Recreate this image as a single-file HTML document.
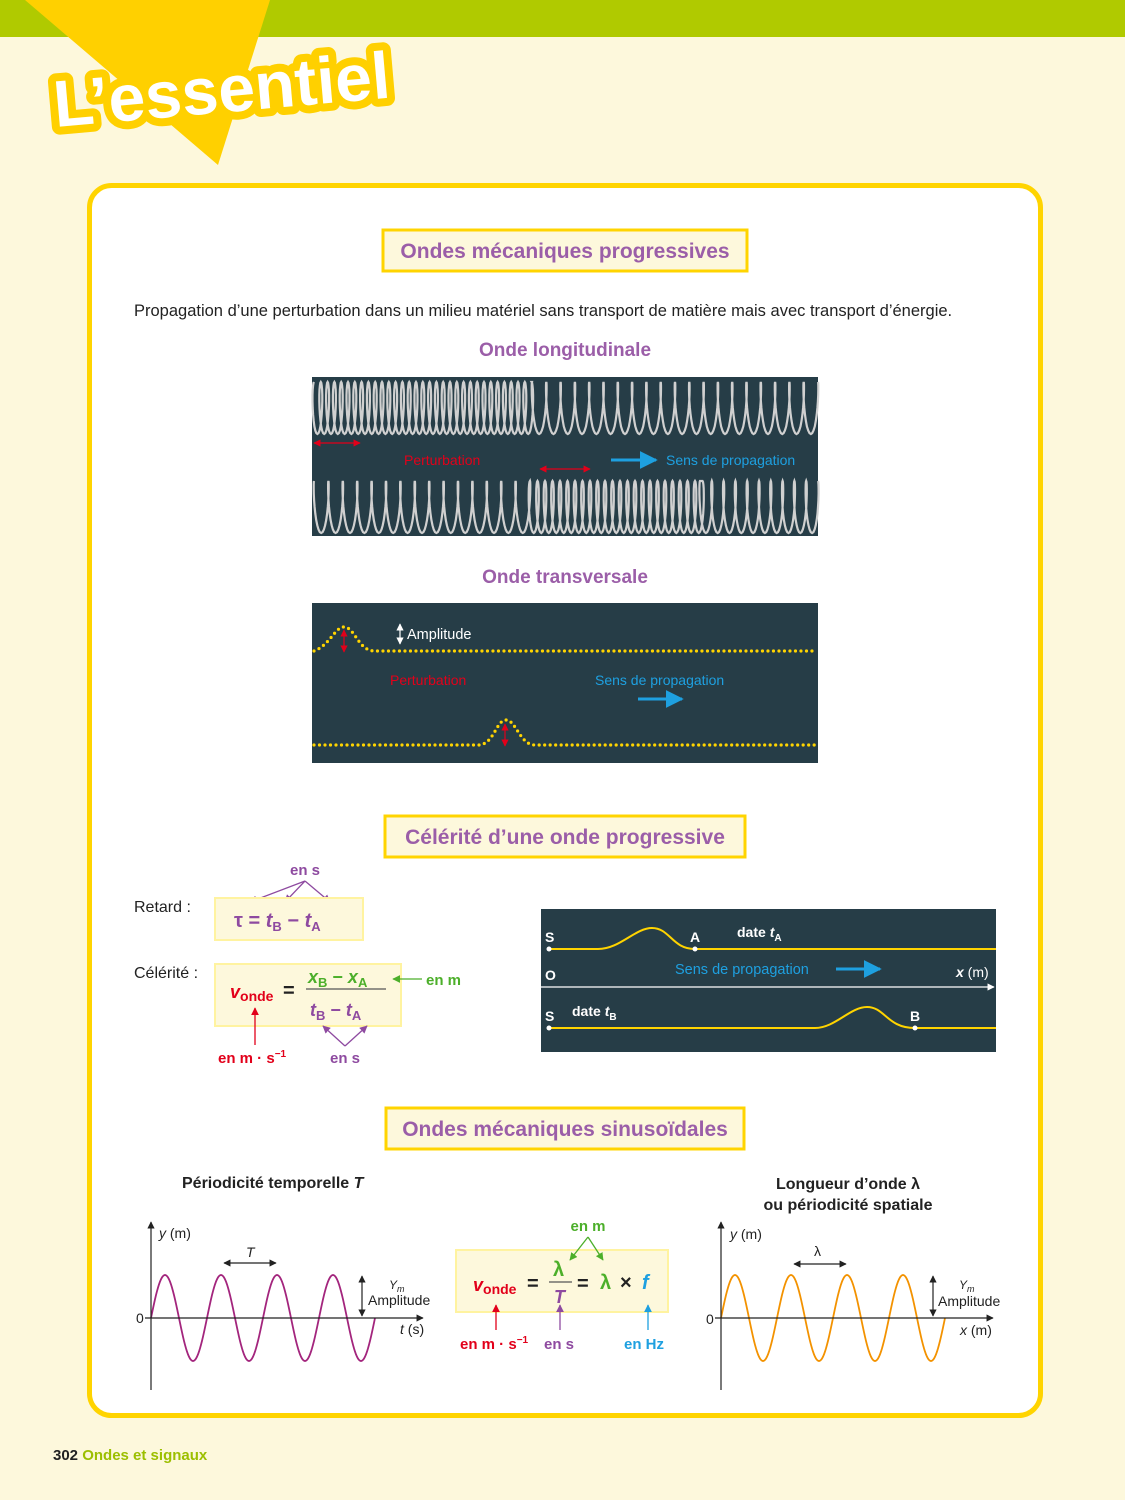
<!DOCTYPE html>
<html><head><meta charset="utf-8"><style>
html,body{margin:0;padding:0;background:#fdf8dc;}
svg{display:block;font-family:"Liberation Sans",sans-serif;}
</style></head><body>
<svg id="s" width="1125" height="1500" viewBox="0 0 1125 1500" xmlns="http://www.w3.org/2000/svg">
<defs>
<marker id="ar" viewBox="0 0 10 10" refX="9" refY="5" markerWidth="5" markerHeight="5" orient="auto-start-reverse"><path d="M0,0 L10,5 L0,10z" fill="context-stroke"/></marker>
<marker id="ak" viewBox="0 0 10 10" refX="9" refY="5" markerWidth="6" markerHeight="6" orient="auto-start-reverse"><path d="M0,0 L10,5 L0,10z" fill="#222"/></marker>
<marker id="ap" viewBox="0 0 10 10" refX="9" refY="5" markerWidth="6" markerHeight="6" orient="auto"><path d="M0,0 L10,5 L0,10z" fill="#8e4aa0"/></marker>
<marker id="ag" viewBox="0 0 10 10" refX="9" refY="5" markerWidth="6" markerHeight="6" orient="auto"><path d="M0,0 L10,5 L0,10z" fill="#4caf2a"/></marker>
<marker id="arr" viewBox="0 0 10 10" refX="9" refY="5" markerWidth="6" markerHeight="6" orient="auto-start-reverse"><path d="M0,0 L10,5 L0,10z" fill="#e2001a"/></marker>
<marker id="ab" viewBox="0 0 10 10" refX="9" refY="5" markerWidth="6" markerHeight="6" orient="auto"><path d="M0,0 L10,5 L0,10z" fill="#1ea0e0"/></marker>
<marker id="aw" viewBox="0 0 10 10" refX="9" refY="5" markerWidth="6" markerHeight="6" orient="auto-start-reverse"><path d="M0,0 L10,5 L0,10z" fill="#fff"/></marker>
</defs>
<rect width="1125" height="1500" fill="#fdf8dc"/>
<rect width="1125" height="37" fill="#b0ca00"/>
<polygon points="25,0 270,0 218,165" fill="#ffd000"/>
<g transform="rotate(-5 225 80)" font-weight="bold" font-size="66" font-family="Liberation Sans,sans-serif">
<text x="52" y="112" fill="#ffd000" stroke="#ffd000" stroke-width="16" stroke-linejoin="round">L’essentiel</text>
<text x="52" y="112" fill="#fff">L’essentiel</text>
</g>
<rect x="89.5" y="185.5" width="951" height="1230" rx="22" fill="#fff" stroke="#ffd400" stroke-width="5"/>

<g font-weight="bold" font-size="21" fill="#9b5ea8" text-anchor="middle">
<rect x="383" y="230" width="364" height="41" fill="#fdf8dc" stroke="#ffd400" stroke-width="3"/>
<text x="565" y="258">Ondes mécaniques progressives</text>
<rect x="385" y="816" width="360" height="41" fill="#fdf8dc" stroke="#ffd400" stroke-width="3"/>
<text x="565" y="844">Célérité d’une onde progressive</text>
<rect x="386" y="1108" width="358" height="41" fill="#fdf8dc" stroke="#ffd400" stroke-width="3"/>
<text x="565" y="1136">Ondes mécaniques sinusoïdales</text>
<text x="565" y="356" font-size="19">Onde longitudinale</text>
<text x="565" y="583" font-size="19">Onde transversale</text>
</g>
<text x="134" y="316" font-size="16.5" fill="#222">Propagation d’une perturbation dans un milieu matériel sans transport de matière mais avec transport d’énergie.</text>

<!-- longitudinal -->
<rect x="312" y="377" width="506" height="159" fill="#263d47"/>
<g id="springs" fill="none" stroke="#d0d0d0" stroke-width="2.2"></g>
<line x1="314" y1="443" x2="360" y2="443" stroke="#e2001a" stroke-width="1.2" marker-start="url(#arr)" marker-end="url(#arr)"/>
<line x1="540" y1="469" x2="590" y2="469" stroke="#e2001a" stroke-width="1.2" marker-start="url(#arr)" marker-end="url(#arr)"/>
<text x="404" y="465" font-size="14" fill="#e2001a">Perturbation</text>
<line x1="611" y1="460" x2="656" y2="460" stroke="#1ea0e0" stroke-width="3" marker-end="url(#ab)"/>
<text x="666" y="465" font-size="14" fill="#1ea0e0">Sens de propagation</text>

<!-- transverse -->
<rect x="312" y="603" width="506" height="160" fill="#263d47"/>
<g fill="none" stroke="#ffd400" stroke-width="3.2" stroke-linecap="round" stroke-dasharray="0 5.5">
<path d="M314,651 C330,645 335,627 344,627 C355,627 358,651 375,651 L815,651"/>
<path d="M314,745 L478,745 C494,745 496,720 506,720 C516,720 520,745 535,745 L815,745"/>
</g>
<line x1="344" y1="630" x2="344" y2="652" stroke="#e2001a" stroke-width="1.2" marker-start="url(#arr)" marker-end="url(#arr)"/>
<line x1="505" y1="724" x2="505" y2="746" stroke="#e2001a" stroke-width="1.2" marker-start="url(#arr)" marker-end="url(#arr)"/>
<line x1="400" y1="624" x2="400" y2="644" stroke="#fff" stroke-width="1.2" marker-start="url(#aw)" marker-end="url(#aw)"/>
<text x="407" y="639" font-size="14.5" fill="#fff">Amplitude</text>
<text x="390" y="685" font-size="14" fill="#e2001a">Perturbation</text>
<text x="595" y="685" font-size="14" fill="#1ea0e0">Sens de propagation</text>
<line x1="638" y1="699" x2="682" y2="699" stroke="#1ea0e0" stroke-width="3" marker-end="url(#ab)"/>

<!-- retard / celerite -->
<text x="134" y="912" font-size="16" fill="#222">Retard :</text>
<text x="134" y="978" font-size="16" fill="#222">Célérité :</text>
<text x="305" y="875" font-size="15" font-weight="bold" fill="#8e4aa0" text-anchor="middle">en s</text>
<g stroke="#8e4aa0" stroke-width="1.3" fill="none">
<line x1="305" y1="881" x2="250" y2="902" marker-end="url(#ap)"/>
<line x1="305" y1="881" x2="285" y2="902" marker-end="url(#ap)"/>
<line x1="305" y1="881" x2="330" y2="902" marker-end="url(#ap)"/>
</g>
<rect x="215" y="898" width="148" height="42" fill="#fdf8dc" stroke="#fff3a0" stroke-width="2"/>
<text x="234" y="927" font-size="20" font-weight="bold" fill="#8e4aa0">τ = <tspan font-style="italic">t</tspan><tspan font-size="13" dy="4">B</tspan><tspan dy="-4"> − </tspan><tspan font-style="italic">t</tspan><tspan font-size="13" dy="4">A</tspan></text>
<rect x="215" y="964" width="186" height="62" fill="#fdf8dc" stroke="#fff3a0" stroke-width="2"/>
<text x="230" y="998" font-size="18" font-weight="bold" fill="#e2001a" font-style="italic">v<tspan font-size="14" font-style="normal" dy="3">onde</tspan></text>
<text x="283" y="997" font-size="20" font-weight="bold" fill="#222">=</text>
<line x1="306" y1="989" x2="386" y2="989" stroke="#555" stroke-width="1.2"/>
<text x="308" y="983" font-size="18" font-weight="bold" fill="#4caf2a"><tspan font-style="italic">x</tspan><tspan font-size="13" dy="4">B</tspan><tspan dy="-4"> − </tspan><tspan font-style="italic">x</tspan><tspan font-size="13" dy="4">A</tspan></text>
<text x="310" y="1016" font-size="18" font-weight="bold" fill="#8e4aa0"><tspan font-style="italic">t</tspan><tspan font-size="13" dy="4">B</tspan><tspan dy="-4"> − </tspan><tspan font-style="italic">t</tspan><tspan font-size="13" dy="4">A</tspan></text>
<line x1="422" y1="979" x2="393" y2="979" stroke="#4caf2a" stroke-width="1.3" marker-end="url(#ag)"/>
<text x="426" y="985" font-size="15" font-weight="bold" fill="#4caf2a">en m</text>
<line x1="255" y1="1045" x2="255" y2="1008" stroke="#e2001a" stroke-width="1.3" marker-end="url(#arr)"/>
<text x="218" y="1063" font-size="15" font-weight="bold" fill="#e2001a">en m · s<tspan font-size="10" dy="-6">−1</tspan></text>
<g stroke="#8e4aa0" stroke-width="1.3"><line x1="345" y1="1046" x2="323" y2="1026" marker-end="url(#ap)"/><line x1="345" y1="1046" x2="367" y2="1026" marker-end="url(#ap)"/></g>
<text x="345" y="1063" font-size="15" font-weight="bold" fill="#8e4aa0" text-anchor="middle">en s</text>

<rect x="541" y="909" width="455" height="143" fill="#263d47"/>
<g fill="none" stroke="#ffd400" stroke-width="2">
<path d="M549,949 L598,949 C620,949 635,928 652,928 C670,928 672,949 695,949 L996,949"/>
<path d="M549,1028 L815,1028 C835,1028 850,1007 867,1007 C885,1007 887,1028 915,1028 L996,1028"/>
</g>
<line x1="541" y1="987" x2="994" y2="987" stroke="#fff" stroke-width="1.2" marker-end="url(#aw)"/>
<g fill="#fff" font-size="14" font-weight="bold">
<circle cx="549" cy="949" r="2.5"/><circle cx="695" cy="949" r="2.5"/><circle cx="549" cy="1028" r="2.5"/><circle cx="915" cy="1028" r="2.5"/>
<text x="545" y="942">S</text><text x="690" y="942">A</text><text x="545" y="980">O</text><text x="545" y="1021">S</text><text x="910" y="1021">B</text>
<text x="737" y="937">date <tspan font-style="italic">t</tspan><tspan font-size="10" dy="4">A</tspan></text>
<text x="572" y="1016">date <tspan font-style="italic">t</tspan><tspan font-size="10" dy="4">B</tspan></text>
<text x="956" y="977"><tspan font-style="italic">x</tspan><tspan font-weight="normal"> (m)</tspan></text>
</g>
<text x="675" y="974" font-size="14.5" fill="#1ea0e0">Sens de propagation</text>
<line x1="836" y1="969" x2="880" y2="969" stroke="#1ea0e0" stroke-width="3" marker-end="url(#ab)"/>

<!-- sinusoidal -->
<text x="182" y="1188" font-size="16" font-weight="bold" fill="#222">Périodicité temporelle <tspan font-style="italic">T</tspan></text>
<text x="848" y="1189" font-size="16" font-weight="bold" fill="#222" text-anchor="middle">Longueur d’onde λ</text>
<text x="848" y="1210" font-size="16" font-weight="bold" fill="#222" text-anchor="middle">ou périodicité spatiale</text>
<g id="sin1" fill="none" stroke="#a3257d" stroke-width="1.8"></g>
<g id="sin2" fill="none" stroke="#f39200" stroke-width="1.8"></g>
<g stroke="#222" stroke-width="1.2" font-size="13" fill="#222">
<line x1="151" y1="1390" x2="151" y2="1222" marker-end="url(#ak)"/>
<line x1="145" y1="1318" x2="423" y2="1318" marker-end="url(#ak)"/>
<line x1="721" y1="1390" x2="721" y2="1222" marker-end="url(#ak)"/>
<line x1="715" y1="1318" x2="993" y2="1318" marker-end="url(#ak)"/>
<line x1="224" y1="1263" x2="276" y2="1263" marker-start="url(#ak)" marker-end="url(#ak)"/>
<line x1="794" y1="1264" x2="846" y2="1264" marker-start="url(#ak)" marker-end="url(#ak)"/>
<line x1="362" y1="1276" x2="362" y2="1316" marker-start="url(#ak)" marker-end="url(#ak)"/>
<line x1="933" y1="1276" x2="933" y2="1316" marker-start="url(#ak)" marker-end="url(#ak)"/>
</g>
<g font-size="14" fill="#222" stroke="none">
<text x="159" y="1238"><tspan font-style="italic">y</tspan> (m)</text><text x="730" y="1239"><tspan font-style="italic">y</tspan> (m)</text>
<text x="136" y="1323">0</text><text x="706" y="1324">0</text>
<text x="246" y="1257" font-style="italic">T</text><text x="814" y="1256">λ</text>
<text x="400" y="1334"><tspan font-style="italic">t</tspan> (s)</text><text x="960" y="1335"><tspan font-style="italic">x</tspan> (m)</text>
<text x="389" y="1289" font-size="12" font-style="italic">Y<tspan font-size="9" dy="3">m</tspan></text>
<text x="368" y="1305">Amplitude</text>
<text x="959" y="1289" font-size="12" font-style="italic">Y<tspan font-size="9" dy="3">m</tspan></text>
<text x="938" y="1306">Amplitude</text>
</g>
<rect x="456" y="1250" width="212" height="62" fill="#fdf8dc" stroke="#fff3a0" stroke-width="2"/>
<text x="473" y="1291" font-size="18" font-weight="bold" fill="#e2001a" font-style="italic">v<tspan font-size="14" font-style="normal" dy="3">onde</tspan></text>
<text x="527" y="1290" font-size="20" font-weight="bold" fill="#222">=</text>
<line x1="549" y1="1282" x2="572" y2="1282" stroke="#555" stroke-width="1.2"/>
<text x="553" y="1276" font-size="20" font-weight="bold" fill="#4caf2a">λ</text>
<text x="554" y="1303" font-size="18" font-weight="bold" font-style="italic" fill="#8e4aa0">T</text>
<text x="577" y="1290" font-size="20" font-weight="bold" fill="#222">=</text>
<text x="600" y="1289" font-size="20" font-weight="bold" fill="#4caf2a">λ</text>
<text x="620" y="1289" font-size="20" font-weight="bold" fill="#222">×</text>
<text x="642" y="1289" font-size="20" font-weight="bold" font-style="italic" fill="#1ea0e0">f</text>
<text x="588" y="1231" font-size="15" font-weight="bold" fill="#4caf2a" text-anchor="middle">en m</text>
<g stroke="#4caf2a" stroke-width="1.3"><line x1="588" y1="1237" x2="570" y2="1260" marker-end="url(#ag)"/><line x1="588" y1="1237" x2="603" y2="1260" marker-end="url(#ag)"/></g>
<line x1="496" y1="1330" x2="496" y2="1305" stroke="#e2001a" stroke-width="1.3" marker-end="url(#arr)"/>
<line x1="560" y1="1330" x2="560" y2="1305" stroke="#8e4aa0" stroke-width="1.3" marker-end="url(#ap)"/>
<line x1="648" y1="1330" x2="648" y2="1305" stroke="#1ea0e0" stroke-width="1.3" marker-end="url(#ab)"/>
<text x="460" y="1349" font-size="15" font-weight="bold" fill="#e2001a">en m · s<tspan font-size="10" dy="-6">−1</tspan></text>
<text x="544" y="1349" font-size="15" font-weight="bold" fill="#8e4aa0">en s</text>
<text x="624" y="1349" font-size="15" font-weight="bold" fill="#1ea0e0">en Hz</text>

<text x="53" y="1460" font-size="15" font-weight="bold" fill="#222">302 <tspan fill="#9cbf00">Ondes et signaux</tspan></text>
</svg>
<script>
(function(){
var NS="http://www.w3.org/2000/svg";
function spring(segs,yc,h){var d="",first=true;segs.forEach(function(s){var x0=s[0],x1=s[1],p=s[2];var n=Math.round((x1-x0)/p);for(var i=0;i<=n*24;i++){var th=i/24*2*Math.PI;var x=x0+th/(2*Math.PI)*p-3*Math.sin(th);var y=yc-h*Math.cos(th);d+=(first?"M":"L")+x.toFixed(1)+","+y.toFixed(1);first=false;}});return d;}
var g=document.getElementById("springs");
[[[[314,532,6.8],[532,818,14.3]],408],[[[314,530,14.4],[530,700,7.5],[700,818,11.8]],507]].forEach(function(a){var p=document.createElementNS(NS,"path");p.setAttribute("d",spring(a[0],a[1],26));g.appendChild(p);});
function sine(id,x0,x1,yc,A,P){var d="";for(var x=x0;x<=x1;x+=1){var y=yc-A*Math.sin((x-x0)/P*2*Math.PI);d+=(x==x0?"M":"L")+x+","+y.toFixed(1);}var p=document.createElementNS(NS,"path");p.setAttribute("d",d);document.getElementById(id).appendChild(p);}
sine("sin1",151,375,1318,43,56);
sine("sin2",721,945,1318,43,56);
})();
</script>
</body></html>
